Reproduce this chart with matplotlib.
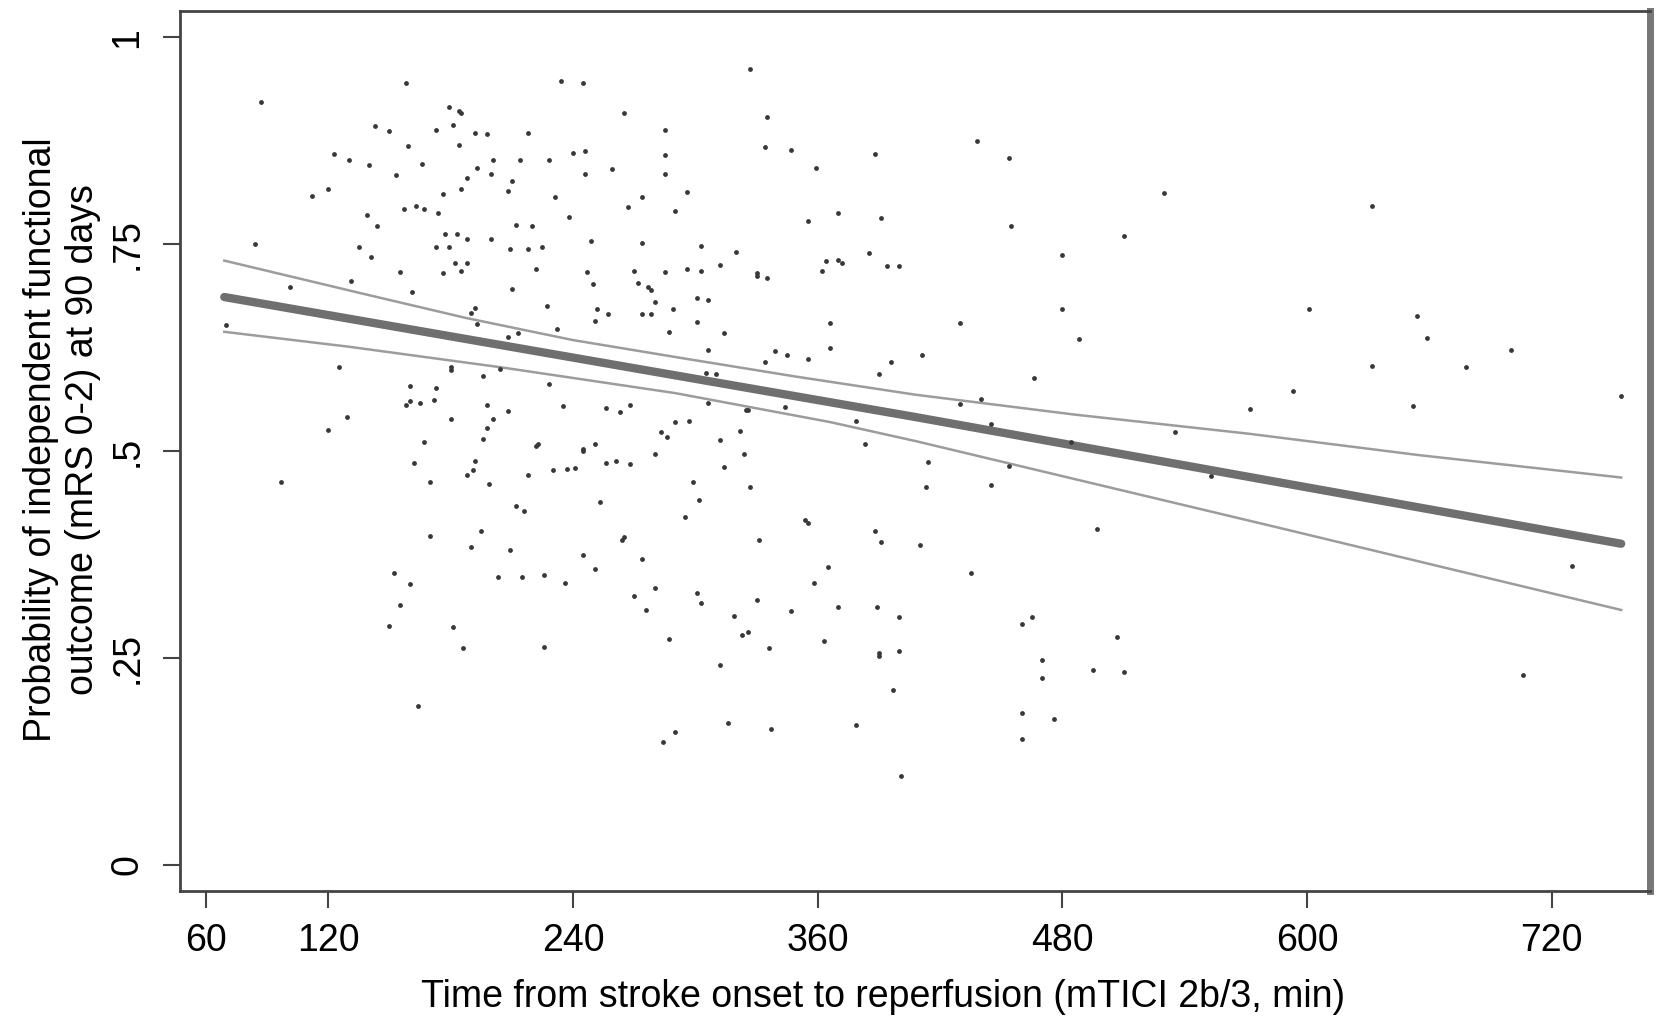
import matplotlib
matplotlib.use('Agg')
import matplotlib.pyplot as plt
import numpy as np

# onset-to-reperfusion time (min) and predicted probability
time_min = [158, 87, 179, 184, 185, 143, 150, 173, 181, 192, 198, 218, 159, 184, 123, 130, 140, 166,
            201, 214, 228, 153, 193, 200, 188, 210, 208, 185, 176, 120, 112, 231, 157, 163, 167, 174,
            139, 144, 212, 220, 177, 183, 188, 200, 84, 135, 173, 179, 209, 218, 225, 141, 182, 188,
            185, 176, 155, 222, 131, 101, 161, 210, 192, 190, 227, 193, 70, 213, 208, 125, 180, 180,
            204, 196, 228, 160, 173, 160, 158, 165, 172, 198, 208, 129, 180, 201,
            120, 198, 196, 167, 223, 222, 162, 192, 191, 188, 170, 199, 218, 230, 97, 212, 216, 195,
            170, 190, 209, 152, 160, 203, 215, 226, 155, 150, 181, 186, 226, 164,
            234, 245, 327, 265, 335, 285, 240, 246, 285, 334, 347, 388, 259, 246, 285, 359, 274, 296,
            267, 238, 290, 370, 355, 391, 249, 274, 303, 320, 385, 364, 370, 372, 362, 394, 400, 312,
            247, 270, 285, 296, 303, 330, 330, 335, 250, 272, 277, 278, 280, 301, 306, 252, 257, 289,
            274, 278, 251, 301, 366, 232, 287, 314, 306, 339, 345, 355, 366, 334, 396, 390, 305, 310,
            235, 256, 263, 268, 306, 325, 326, 344, 290, 297, 379,
            283, 286, 312, 322, 245, 245, 251, 280, 324, 237, 241, 256, 261, 268, 314, 299, 327, 302,
            253, 295, 354, 355, 383, 388, 391, 265, 264, 331, 245, 251, 274, 236, 365, 358, 280, 270,
            301, 303, 330, 276, 319, 347, 370, 389, 400, 323, 326, 287, 336, 363, 390, 390, 400, 312,
            397, 316, 337, 379, 290, 284, 401,
            438, 454, 530, 455, 510, 480, 480, 430, 488, 411, 466, 430, 440, 572, 445,
            535, 484, 553, 414, 454, 413, 445, 497, 410, 435, 460, 465, 507, 470, 495, 510, 470, 460,
            476, 460,
            632, 601, 654, 659, 700, 632, 678, 593, 652, 754, 730, 706]
prob = [0.944, 0.922, 0.915, 0.911, 0.908, 0.893, 0.886, 0.888, 0.894, 0.884, 0.883, 0.884, 0.868,
        0.870, 0.859, 0.851, 0.845, 0.847, 0.851, 0.851, 0.851, 0.834, 0.842, 0.835, 0.830, 0.826,
        0.814, 0.816, 0.811, 0.816, 0.808, 0.807, 0.792, 0.796, 0.792, 0.788, 0.785, 0.772, 0.773,
        0.772, 0.762, 0.762, 0.756, 0.756, 0.750, 0.747, 0.746, 0.747, 0.744, 0.744, 0.746, 0.734,
        0.727, 0.727, 0.717, 0.715, 0.716, 0.720, 0.705, 0.698, 0.692, 0.696, 0.673, 0.667, 0.675,
        0.654, 0.652, 0.642, 0.638, 0.601, 0.602, 0.598, 0.599, 0.591, 0.581, 0.578, 0.576, 0.560,
        0.555, 0.558, 0.562, 0.555, 0.548, 0.541, 0.539, 0.539,
        0.525, 0.528, 0.515, 0.511, 0.508, 0.506, 0.486, 0.488, 0.477, 0.471, 0.463, 0.460, 0.471,
        0.477, 0.463, 0.433, 0.428, 0.403, 0.397, 0.384, 0.380, 0.353, 0.339, 0.348, 0.348, 0.350,
        0.314, 0.289, 0.287, 0.262, 0.263, 0.192,
        0.947, 0.945, 0.962, 0.908, 0.904, 0.888, 0.860, 0.862, 0.858, 0.867, 0.864, 0.859, 0.841,
        0.835, 0.835, 0.842, 0.807, 0.813, 0.795, 0.783, 0.790, 0.788, 0.778, 0.781, 0.754, 0.751,
        0.748, 0.740, 0.739, 0.730, 0.731, 0.727, 0.718, 0.724, 0.724, 0.725, 0.716, 0.718, 0.716,
        0.720, 0.717, 0.715, 0.711, 0.709, 0.702, 0.703, 0.698, 0.694, 0.680, 0.685, 0.682, 0.671,
        0.666, 0.671, 0.665, 0.665, 0.657, 0.656, 0.655, 0.647, 0.644, 0.642, 0.622, 0.621, 0.616,
        0.611, 0.625, 0.608, 0.607, 0.593, 0.594, 0.593, 0.554, 0.552, 0.547, 0.555, 0.558, 0.549,
        0.550, 0.553, 0.535, 0.536, 0.536,
        0.523, 0.517, 0.513, 0.524, 0.503, 0.500, 0.508, 0.497, 0.496, 0.478, 0.480, 0.485, 0.488,
        0.484, 0.481, 0.463, 0.456, 0.441, 0.438, 0.420, 0.417, 0.413, 0.509, 0.403, 0.390, 0.396,
        0.393, 0.392, 0.374, 0.358, 0.370, 0.341, 0.360, 0.340, 0.335, 0.325, 0.328, 0.317, 0.320,
        0.308, 0.301, 0.307, 0.312, 0.312, 0.300, 0.278, 0.281, 0.273, 0.262, 0.271, 0.256, 0.252,
        0.258, 0.241, 0.211, 0.171, 0.164, 0.169, 0.160, 0.149, 0.107,
        0.875, 0.854, 0.812, 0.772, 0.760, 0.737, 0.671, 0.655, 0.635, 0.616, 0.588, 0.557, 0.563,
        0.551, 0.533,
        0.523, 0.511, 0.470, 0.487, 0.482, 0.457, 0.459, 0.406, 0.387, 0.353, 0.291, 0.299, 0.275,
        0.248, 0.236, 0.233, 0.226, 0.184, 0.176, 0.152,
        0.796, 0.671, 0.663, 0.637, 0.622, 0.603, 0.601, 0.572, 0.554, 0.567, 0.361, 0.229]

# fitted line and 95% CI bounds
fit_time = [69, 408, 754]
fit_prob = [0.686, 0.541, 0.388]
upper_time = [69, 137, 187, 240, 294, 349, 408, 486, 571, 655, 754]
ci_upper = [0.730, 0.690, 0.661, 0.634, 0.612, 0.590, 0.568, 0.544, 0.521, 0.495, 0.468]
lower_time = [69, 130, 205, 290, 366, 408, 493, 585, 666, 754]
ci_lower = [0.644, 0.626, 0.601, 0.570, 0.535, 0.512, 0.462, 0.408, 0.360, 0.308]

xticks = [60, 120, 240, 360, 480, 600, 720]
yticks = [0, 0.25, 0.5, 0.75, 1]
ylabels = ['0', '.25', '.5', '.75', '1']

plt.rcParams['font.family'] = ['Liberation Sans', 'DejaVu Sans']
fs = 27

fig = plt.figure(figsize=(16.58, 10.18), dpi=100)
ax = fig.add_axes([0.1086, 0.1248, 0.8864, 0.8648])

ax.scatter(time_min, prob, s=12, color='#383838', linewidths=0, zorder=3)
ax.plot(upper_time, ci_upper, color='#9c9c9c', lw=1.8, zorder=2)
ax.plot(lower_time, ci_lower, color='#9c9c9c', lw=1.8, zorder=2)
ax.plot(fit_time, fit_prob, color='#6f6f6f', lw=6, solid_capstyle='round', zorder=2)

ax.set_xlim(47.3, 768)
ax.set_ylim(-0.0314, 1.032)

ax.set_xticks(xticks)
ax.set_xticklabels([str(t) for t in xticks], fontsize=fs)
ax.set_yticks(yticks)
ax.set_yticklabels(ylabels, fontsize=fs, rotation=90, va='center')
ax.tick_params(direction='out', length=12, width=1.5, color='#444444', pad=11)
ax.tick_params(axis='y', pad=13)

for side in ['left', 'bottom', 'top']:
    ax.spines[side].set_color('#444444')
    ax.spines[side].set_linewidth(2)
ax.spines['right'].set_color('#777777')
ax.spines['right'].set_linewidth(5)

fig.text(62 / 1658, 1 - 440 / 1018,
         'Probability of independent functional\noutcome (mRS 0-2) at 90 days',
         rotation=90, ha='center', va='center', multialignment='center', fontsize=fs)
fig.text(883 / 1658, 1 - 997 / 1018,
         'Time from stroke onset to reperfusion (mTICI 2b/3, min)',
         ha='center', va='center', fontsize=fs)

fig.savefig('out.png', dpi=100)
